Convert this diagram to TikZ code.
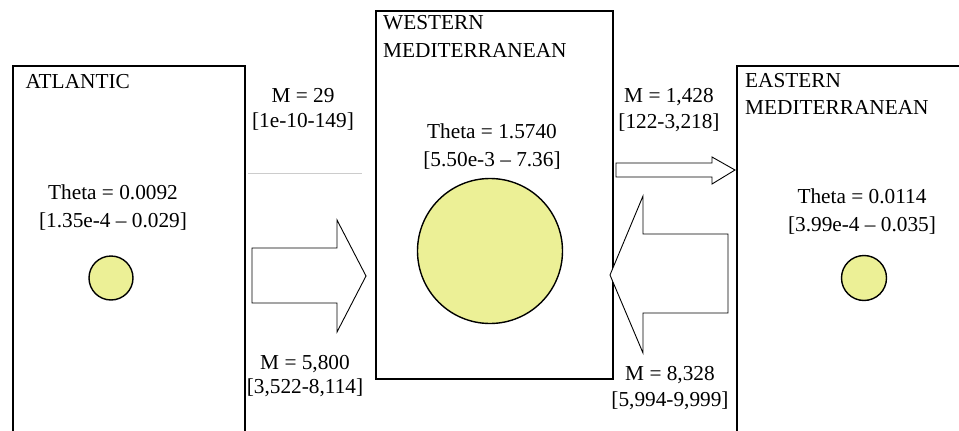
\documentclass[tikz,border=0pt]{standalone}
\usepackage{fontspec}
\setmainfont{Liberation Serif}
\definecolor{blobfill}{RGB}{236,240,150}
\begin{document}
\begin{tikzpicture}[x=1pt,y=-1pt,
  every node/.style={font=\fontsize{21.3}{26}\selectfont},
  region/.style={draw=black, line width=2.4pt, anchor=north west, inner sep=0pt},
  blob/.style={circle, draw=black, line width=1.4pt, fill=blobfill, inner sep=0pt},
  ln/.style={anchor=base, inner sep=0pt},
  ttl/.style={anchor=base west, inner sep=0pt},
  blockarrow/.style={draw=black, line width=0.9pt, fill=white, line join=miter}]
\useasboundingbox (0,0) rectangle (959,431);
\clip (0,0) rectangle (959,431);
\fill[white] (0,0) rectangle (959,431);
% regions
\node[region, minimum width=232pt, minimum height=400pt] (atl) at (12,65) {};
\node[region, minimum width=237pt, minimum height=368pt] (wmed) at (375,10) {};
\node[region, minimum width=250pt, minimum height=400pt] (emed) at (736,65) {};
% titles
\node[ttl] (atlT) at (25.5,88) {ATLANTIC};
\node[ttl] (wmedT1) at (383,30) {WESTERN};
\node[ttl] (wmedT2) at (383,57) {MEDITERRANEAN};
\node[ttl] (emedT1) at (745,87) {EASTERN};
\node[ttl] (emedT2) at (745,114) {MEDITERRANEAN};
% theta labels
\node[ln] (atlTh1) at (113,199) {Theta = 0.0092};
\node[ln] (atlTh2) at (113,227) {[1.35e-4 -- 0.029]};
\node[ln] (wmedTh1) at (492,138) {Theta = 1.5740};
\node[ln] (wmedTh2) at (492,166) {[5.50e-3 -- 7.36]};
\node[ln] (emedTh1) at (862,203) {Theta = 0.0114};
\node[ln] (emedTh2) at (862,231) {[3.99e-4 -- 0.035]};
% circles
\node[blob, minimum size=44pt] (atlC) at (111,278) {};
\node[blob, minimum size=145pt] (wmedC) at (490,251) {};
\node[blob, minimum size=45pt] (emedC) at (864,278) {};
% migration labels
\node[ln] (m1a) at (303,102) {M = 29};
\node[ln] (m1b) at (303,127) {[1e-10-149]};
\node[ln] (m2a) at (305,369) {M = 5,800};
\node[ln] (m2b) at (305,393) {[3,522-8,114]};
\node[ln] (m3a) at (669,102) {M = 1,428};
\node[ln] (m3b) at (669,128) {[122-3,218]};
\node[ln] (m4a) at (670,380) {M = 8,328};
\node[ln] (m4b) at (670,406) {[5,994-9,999]};
% separator line
\coordinate (g1) at (248,173);
\coordinate (g2) at (362,173);
\draw[black!20, line width=1pt] (g1) -- (g2);
% block arrows
\draw[blockarrow] (252,248) -- (337,248) -- (337,220) -- (366,276) -- (337,332) -- (337,303) -- (252,303) -- cycle;
\draw[blockarrow] (616,163) -- (712,163) -- (712,157) -- (735,170) -- (712,184) -- (712,177) -- (616,177) -- cycle;
\draw[blockarrow] (728,234) -- (643,234) -- (643,196) -- (610,275) -- (643,353) -- (643,313) -- (728,313) -- cycle;
\end{tikzpicture}
\end{document}
